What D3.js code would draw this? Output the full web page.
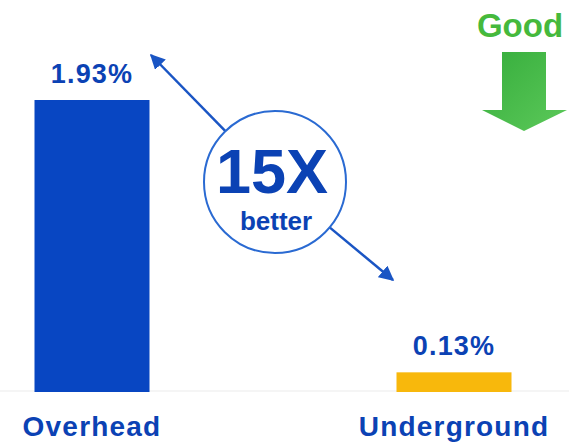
<!DOCTYPE html>
<html lang="en">
<head>
    <meta charset="UTF-8">
    <title>Overhead vs Underground</title>
    <script src="https://d3js.org/d3.v7.min.js"></script>
    <style>
        body {
            margin: 0;
            background: #fff;
        }
        svg {
            display: block;
            font-family: Arial, "Liberation Sans", sans-serif;
            font-weight: bold;
        }
    </style>
</head>
<body>
    <svg id="chart" width="569" height="443"></svg>

    <script>
        // data
        const categories = ["Overhead", "Underground"];
        const values = [1.93, 0.13];
        const valueLabels = ["1.93%", "0.13%"];
        const barColors = ["#0846c2", "#f8b80c"];
        const ratioText = "15X";
        const ratioSub = "better";
        const goodText = "Good";

        const width = 569, height = 443;
        const svg = d3.select("#chart");

        const x = d3.scalePoint().domain(categories).range([92, 454]);
        const y = d3.scaleLinear().domain([0, d3.max(values)]).range([392, 100]);
        const barW = 115;

        const defs = svg.append("defs");
        defs.append("marker")
            .attr("id", "head")
            .attr("viewBox", "0 0 10 10")
            .attr("refX", 9).attr("refY", 5)
            .attr("markerWidth", 6).attr("markerHeight", 6)
            .attr("orient", "auto")
            .append("path")
            .attr("d", "M0,0 L10,5 L0,10 Z")
            .attr("fill", "#1a55c4");

        const grad = defs.append("linearGradient")
            .attr("id", "green")
            .attr("x1", "0").attr("y1", "0").attr("x2", "1").attr("y2", "1");
        grad.append("stop").attr("offset", "0%").attr("stop-color", "#36ad3c");
        grad.append("stop").attr("offset", "100%").attr("stop-color", "#5cc95a");

        // faint floor line
        svg.append("line")
            .attr("x1", 0).attr("x2", width)
            .attr("y1", y(0) - 1).attr("y2", y(0) - 1)
            .attr("stroke", "#f5f5f5").attr("stroke-width", 2);

        // bars
        svg.selectAll(".bar")
            .data(values)
            .enter().append("rect")
            .attr("class", "bar")
            .attr("x", (d, i) => x(categories[i]) - barW / 2)
            .attr("y", d => y(d))
            .attr("width", barW)
            .attr("height", d => y(0) - y(d))
            .attr("fill", (d, i) => barColors[i]);

        // value labels
        svg.selectAll(".val")
            .data(values)
            .enter().append("text")
            .attr("class", "val")
            .attr("x", (d, i) => x(categories[i]))
            .attr("y", d => y(d) - 17)
            .attr("text-anchor", "middle")
            .attr("font-size", 27)
            .attr("letter-spacing", 1.2)
            .attr("fill", "#0b42b4")
            .text((d, i) => valueLabels[i]);

        // category labels
        svg.selectAll(".cat")
            .data(categories)
            .enter().append("text")
            .attr("class", "cat")
            .attr("x", d => x(d))
            .attr("y", 436)
            .attr("text-anchor", "middle")
            .attr("font-size", 28)
            .attr("letter-spacing", 1.2)
            .attr("fill", "#0b42b4")
            .text(d => d);

        // ratio circle with arrows
        const cx = 275, cy = 182, r = 71;
        const tips = [[151, 55], [393, 280]];
        tips.forEach(t => {
            const a = Math.atan2(t[1] - cy, t[0] - cx);
            svg.append("line")
                .attr("x1", cx + r * Math.cos(a))
                .attr("y1", cy + r * Math.sin(a))
                .attr("x2", t[0]).attr("y2", t[1])
                .attr("stroke", "#1a55c4")
                .attr("stroke-width", 2.5)
                .attr("marker-end", "url(#head)");
        });

        svg.append("circle")
            .attr("cx", cx).attr("cy", cy).attr("r", r)
            .attr("fill", "#fff")
            .attr("stroke", "#2a6ad2")
            .attr("stroke-width", 2);

        svg.append("text")
            .attr("x", cx - 3).attr("y", 193)
            .attr("text-anchor", "middle")
            .attr("font-size", 63)
            .attr("fill", "#0b42b4")
            .text(ratioText);

        svg.append("text")
            .attr("x", cx + 1).attr("y", 230)
            .attr("text-anchor", "middle")
            .attr("font-size", 26)
            .attr("fill", "#0b42b4")
            .text(ratioSub);

        // "Good" indicator
        svg.append("text")
            .attr("x", 520).attr("y", 37)
            .attr("text-anchor", "middle")
            .attr("font-size", 33)
            .attr("fill", "#45b93c")
            .text(goodText);

        svg.append("path")
            .attr("d", "M502,52 L546,52 L546,110 L567,110 L524,131 L482,110 L502,110 Z")
            .attr("fill", "url(#green)");
    </script>
</body>
</html>
